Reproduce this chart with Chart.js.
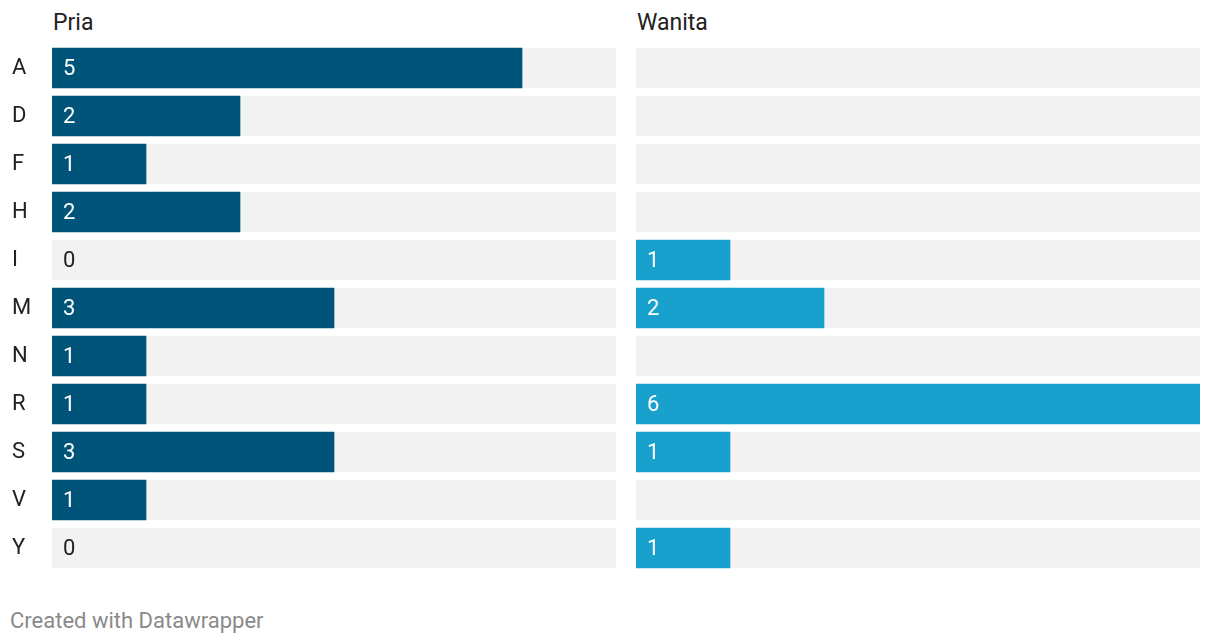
<!DOCTYPE html>
<html>
<head>
<meta charset="utf-8">
<script src="https://cdn.jsdelivr.net/npm/chart.js@4"></script>
<style>
  html, body { margin:0; padding:0; background:#fff; }
  body { width:1220px; height:644px; position:relative; overflow:hidden; font-family: Roboto, "Noto Sans", sans-serif; }
  .hdr { position:absolute; top:10px; font-size:23px; color:#222; line-height:26px; }
  .foot { position:absolute; left:10px; top:608px; font-size:22px; color:#8a8a8a; line-height:26px; }
  .wrap { position:absolute; top:0; height:572px; }
</style>
</head>
<body>
<div class="hdr" style="left:53px">Pria</div>
<div class="hdr" style="left:637px">Wanita</div>
<div class="wrap" style="left:0; width:616px"><canvas id="c1"></canvas></div>
<div class="wrap" style="left:636px; width:564px"><canvas id="c2"></canvas></div>
<div class="foot">Created with Datawrapper</div>
<script>
const categories = ["A","D","F","H","I","M","N","R","S","V","Y"];
const pria   = [5, 2, 1, 2, 0, 3, 1, 1, 3, 1, 0];
const wanita = [null, null, null, null, 1, 2, null, 6, 1, null, 1];
const axisMax = 6;

const trackPlugin = {
  id: 'track',
  beforeDatasetsDraw(chart) {
    const {ctx, chartArea, scales} = chart;
    ctx.save();
    ctx.fillStyle = '#f2f2f2';
    categories.forEach((c, i) => {
      const y = scales.y.getPixelForValue(i);
      ctx.fillRect(chartArea.left, y - 20, chartArea.right - chartArea.left, 40);
    });
    ctx.restore();
  }
};
const labelPlugin = {
  id: 'vlabels',
  afterDatasetsDraw(chart) {
    const {ctx, chartArea, scales} = chart;
    const data = chart.data.datasets[0].data;
    ctx.save();
    ctx.font = '22px Roboto, sans-serif';
    ctx.textAlign = 'left';
    ctx.textBaseline = 'middle';
    data.forEach((v, i) => {
      if (v === null || v === undefined) return;
      const y = scales.y.getPixelForValue(i);
      ctx.fillStyle = v > 0 ? '#ffffff' : '#222222';
      ctx.fillText(String(v), chartArea.left + 11, y + 1);
    });
    ctx.restore();
  }
};

function makeChart(id, values, color, showY) {
  return new Chart(document.getElementById(id), {
    type: 'bar',
    data: {
      labels: categories,
      datasets: [{
        data: values,
        backgroundColor: (c) => (c.raw > 0 ? color : 'rgba(0,0,0,0)'),
        barThickness: 40, borderWidth: 0
      }]
    },
    options: {
      indexAxis: 'y',
      responsive: true,
      maintainAspectRatio: false,
      animation: false,
      layout: { padding: { top: 44, left: showY ? 12 : 0, right: 0, bottom: 0 } },
      plugins: { legend: { display: false }, tooltip: { enabled: false } },
      scales: {
        x: { display: false, min: 0, max: axisMax },
        y: {
          display: showY,
          grid: { display: false, drawTicks: false },
          border: { display: false },
          ticks: { crossAlign: 'far', color: '#222', font: { family: 'Roboto', size: 22 }, padding: 0 },
          afterFit(scale) {
            scale.width = showY ? 40 : 0;
            scale.paddingTop = 0;
            scale.paddingBottom = 0;
          }
        }
      }
    },
    plugins: [trackPlugin, labelPlugin]
  });
}
makeChart('c1', pria, '#015479', true);
makeChart('c2', wanita, '#18a1cd', false);
</script>
</body>
</html>
